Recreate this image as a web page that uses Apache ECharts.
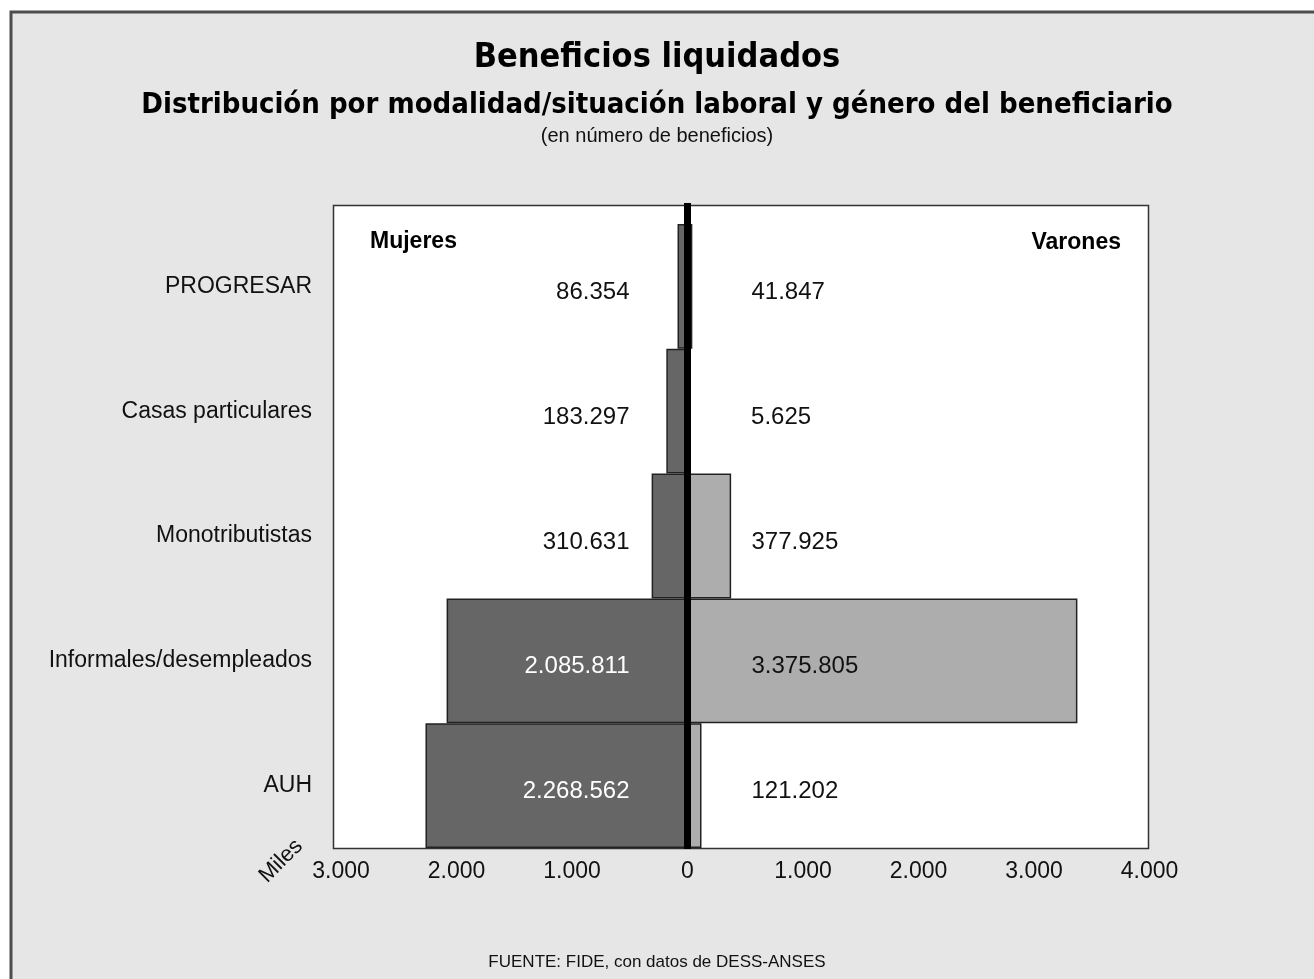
<!DOCTYPE html>
<html>
<head>
<meta charset="utf-8">
<title>Beneficios liquidados</title>
<script src="https://cdn.jsdelivr.net/npm/echarts@6/dist/echarts.min.js"></script>
<style>
  html, body { margin: 0; padding: 0; background: #fff; }
  #chart { width: 1314px; height: 979px; }
</style>
</head>
<body>
<div id="chart"></div>
<script>
  // datos: numero de beneficios por modalidad y genero
  var categorias = ['PROGRESAR', 'Casas particulares', 'Monotributistas', 'Informales/desempleados', 'AUH']
  var mujeres = [86354, 183297, 310631, 2085811, 2268562]
  var varones = [41847, 5625, 377925, 3375805, 121202]
  var ticksMiles = [-3000, -2000, -1000, 0, 1000, 2000, 3000, 4000]

  var narrow = '"Liberation Sans Narrow", "Arial Narrow", "Liberation Sans", Arial, sans-serif'
  var cond = '"DejaVu Sans Condensed", "DejaVu Sans", sans-serif'

  function puntos(n) {
    return String(Math.abs(n)).replace(/\B(?=(\d{3})+(?!\d))/g, '.')
  }

  var chart = echarts.init(document.getElementById('chart'), null, { renderer: 'canvas' })

  var option = {
    backgroundColor: '#ffffff',
    animation: false,
    title: [
      {
        text: 'Beneficios liquidados',
        left: 'center',
        top: 36,
        textStyle: { fontFamily: cond, fontWeight: 'bold', fontSize: 34, color: '#000' }
      },
      {
        text: 'Distribución por modalidad/situación laboral y género del beneficiario',
        left: 'center',
        top: 86,
        textStyle: { fontFamily: cond, fontWeight: 'bold', fontSize: 29, color: '#000' }
      },
      {
        text: '(en número de beneficios)',
        left: 'center',
        top: 121,
        textStyle: { fontFamily: narrow, fontWeight: 'normal', fontSize: 20, color: '#111' }
      }
    ],
    grid: {
      left: 341,
      right: 164.5,
      top: 224,
      bottom: 131
    },
    xAxis: {
      type: 'value',
      min: ticksMiles[0],
      max: ticksMiles[ticksMiles.length - 1],
      interval: 1000,
      axisLine: { show: false },
      axisTick: { show: false },
      splitLine: { show: false },
      axisLabel: {
        margin: 12,
        fontFamily: narrow,
        fontSize: 23,
        color: '#111',
        formatter: function (v) { return puntos(v) }
      }
    },
    yAxis: {
      type: 'category',
      inverse: true,
      data: categorias,
      axisLine: { show: false },
      axisTick: { show: false },
      axisLabel: {
        margin: 29,
        fontFamily: narrow,
        fontSize: 23,
        color: '#111'
      }
    },
    series: [
      {
        name: 'Mujeres',
        type: 'bar',
        barGap: '-100%',
        barCategoryGap: '0%',
        z: 3,
        itemStyle: { color: '#666666', borderColor: '#222', borderWidth: 1.5 },
        label: {
          show: true,
          position: 'insideRight',
          distance: 58,
          offset: [0, 6],
          fontFamily: narrow,
          fontSize: 24,
          color: '#111',
          formatter: function (p) { return puntos(mujeres[p.dataIndex]) }
        },
        data: mujeres.map(function (v) {
          return {
            value: -v / 1000,
            label: { color: v > 1000000 ? '#ffffff' : '#111' }
          }
        })
      },
      {
        name: 'Varones',
        type: 'bar',
        barGap: '-100%',
        barCategoryGap: '0%',
        z: 2,
        itemStyle: { color: '#adadad', borderColor: '#222', borderWidth: 1.5 },
        label: {
          show: true,
          position: 'insideLeft',
          distance: 64,
          offset: [0, 6],
          fontFamily: narrow,
          fontSize: 24,
          color: '#111',
          formatter: function (p) { return puntos(varones[p.dataIndex]) }
        },
        data: varones.map(function (v) { return v / 1000 })
      }
    ],
    graphic: [
      {
        // marco exterior
        type: 'rect',
        z: -20,
        silent: true,
        shape: { x: 11, y: 12, width: 1320, height: 990 },
        style: { fill: '#e6e6e6', stroke: '#4d4d4d', lineWidth: 3 }
      },
      {
        // caja blanca del area de grafico
        type: 'rect',
        z: -10,
        silent: true,
        shape: { x: 333.5, y: 205.5, width: 815, height: 643 },
        style: { fill: '#ffffff', stroke: '#333', lineWidth: 1.5 }
      },
      {
        type: 'text',
        left: 370,
        top: 230,
        style: { text: 'Mujeres', font: 'bold 23px ' + narrow, fill: '#000' }
      },
      {
        type: 'text',
        right: 1314 - 1121,
        top: 231,
        style: { text: 'Varones', font: 'bold 23px ' + narrow, fill: '#000' }
      },
      {
        type: 'text',
        x: 281,
        y: 861,
        rotation: Math.PI / 4,
        style: {
          text: 'Miles',
          font: '22px ' + narrow,
          fill: '#111',
          align: 'center',
          verticalAlign: 'middle'
        }
      },
      {
        type: 'text',
        left: 'center',
        top: 954,
        style: { text: 'FUENTE: FIDE, con datos de DESS-ANSES', font: '17px ' + narrow, fill: '#111' }
      }
    ]
  }

  chart.setOption(option)

  // linea del cero, ubicada con la escala del eje
  var x0 = chart.convertToPixel({ xAxisIndex: 0 }, 0)
  chart.setOption({
    graphic: [{
      id: 'cero',
      type: 'rect',
      z: 100,
      silent: true,
      shape: { x: x0 - 3.5, y: 203, width: 7, height: 646 },
      style: { fill: '#000' }
    }]
  })
</script>
</body>
</html>
